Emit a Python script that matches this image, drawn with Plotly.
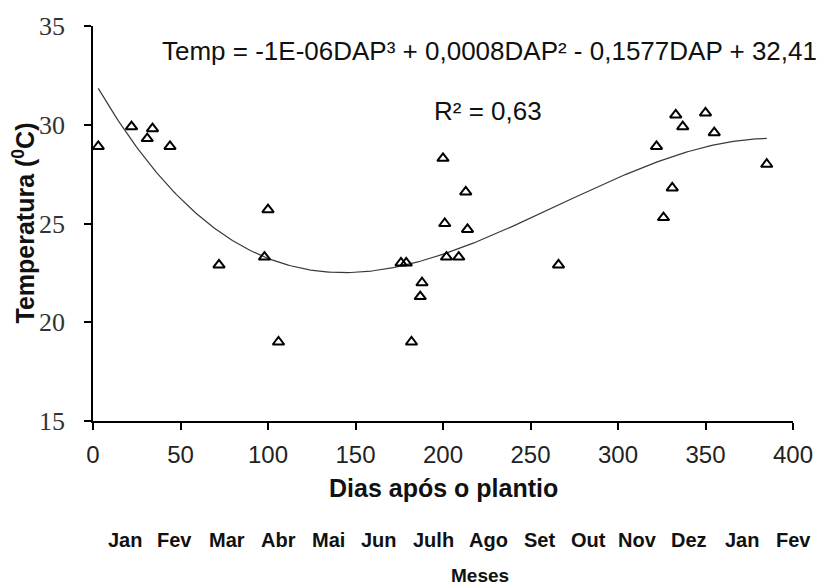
import numpy as np
import plotly.graph_objects as go

# Data
dap = [3, 22, 31, 34, 44, 72, 98, 100, 106, 176, 179, 182, 187, 188, 200, 201,
       202, 209, 213, 214, 266, 322, 326, 331, 333, 337, 350, 355, 385]
temp = [28.9, 29.9, 29.3, 29.8, 28.9, 22.9, 23.3, 25.7, 19.0, 23.0, 23.0, 19.0,
        21.3, 22.0, 28.3, 25.0, 23.3, 23.3, 26.6, 24.7, 22.9, 28.9, 25.3, 26.8,
        30.5, 29.9, 30.6, 29.6, 28.0]

month_labels = ["Jan", "Fev", "Mar", "Abr", "Mai", "Jun", "Julh", "Ago", "Set",
                "Out", "Nov", "Dez", "Jan", "Fev"]
month_pos = [18.3, 46.6, 76.7, 106.1, 134.6, 163.4, 194.4, 226.0, 255.1, 283.0,
             311.2, 340.6, 370.8, 400.1]

x_ticks = [0, 50, 100, 150, 200, 250, 300, 350, 400]
y_ticks = [15, 20, 25, 30, 35]
x_range = [0, 400]
y_range = [15, 35]

equation = "Temp = -1E-06DAP³ + 0,0008DAP² - 0,1577DAP + 32,41"
r2_text = "R² = 0,63"

# Cubic trendline fitted to the data (as in the original spreadsheet)
coef = np.polyfit(dap, temp, 3)
xf = np.linspace(min(dap), max(dap), 300)
yf = np.polyval(coef, xf)

SANS = "Arial, Liberation Sans, sans-serif"
SERIF = "Times New Roman, Liberation Serif, serif"


def to_paper(v):
    return (v - x_range[0]) / (x_range[1] - x_range[0])


fig = go.Figure()
fig.add_trace(go.Scatter(x=xf, y=yf, mode="lines",
                         line=dict(color="#3a3a3a", width=1.2),
                         hoverinfo="skip", showlegend=False))
fig.add_trace(go.Scatter(x=dap, y=temp, mode="markers",
                         marker=dict(symbol="triangle-up-open", size=10,
                                     color="black", line=dict(width=2, color="black")),
                         showlegend=False))

annotations = [
    dict(text=equation, x=38.5, y=33.75, xref="x", yref="y", xanchor="left",
         yanchor="middle", showarrow=False, font=dict(family=SANS, size=26, color="#111")),
    dict(text=r2_text, x=193.5, y=30.7, xref="x", yref="y", xanchor="left",
         yanchor="middle", showarrow=False, font=dict(family=SANS, size=26, color="#111")),
    dict(text="<b>Dias após o plantio</b>", x=0.5, y=0, xref="paper", yref="paper",
         xanchor="center", yanchor="middle", yshift=-67, showarrow=False,
         font=dict(family=SANS, size=25, color="#111")),
    dict(text="<b>Meses</b>", x=to_paper(221), y=0, xref="paper", yref="paper",
         xanchor="center", yanchor="bottom", yshift=-167, showarrow=False,
         font=dict(family=SANS, size=19, color="#111")),
    dict(text="<b>Temperatura (<sup>0</sup>C)</b>", x=0, y=0.5, xref="paper", yref="paper",
         xanchor="center", yanchor="middle", xshift=-70, textangle=-90, showarrow=False,
         font=dict(family=SANS, size=25, color="#111")),
]
for lab, pos in zip(month_labels, month_pos):
    annotations.append(dict(text="<b>%s</b>" % lab, x=to_paper(pos), y=0,
                            xref="paper", yref="paper",
                            xanchor="center", yanchor="middle", yshift=-119,
                            showarrow=False, font=dict(family=SANS, size=20, color="#111")))

fig.update_layout(
    width=825, height=588,
    margin=dict(l=93, r=23, t=25, b=167),
    paper_bgcolor="white", plot_bgcolor="white",
    annotations=annotations,
    xaxis=dict(range=x_range, tickvals=x_ticks, showgrid=False, zeroline=False,
               showline=True, linecolor="black", linewidth=1.5,
               ticks="outside", ticklen=7, tickwidth=1.5, tickcolor="black",
               ticklabelstandoff=4,
               tickfont=dict(family=SANS, size=24, color="#222")),
    yaxis=dict(range=y_range, tickvals=y_ticks, showgrid=False, zeroline=False,
               showline=True, linecolor="black", linewidth=1.5,
               ticks="outside", ticklen=7, tickwidth=1.5, tickcolor="black",
               ticklabelstandoff=14,
               tickfont=dict(family=SERIF, size=26, color="#333")),
)

fig.write_html("out.html")
